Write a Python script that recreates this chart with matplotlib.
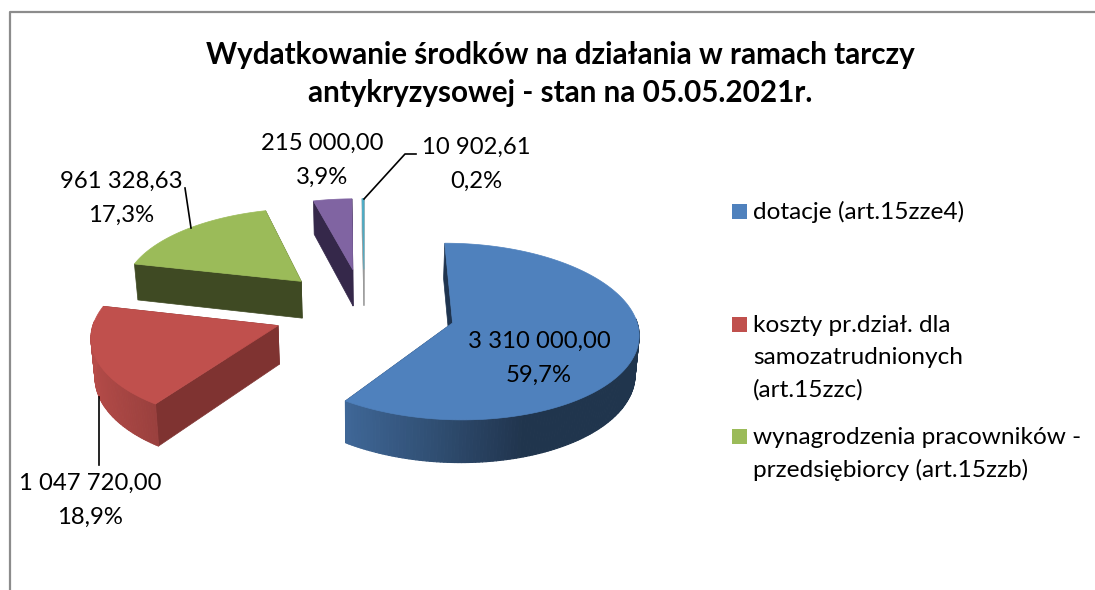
import matplotlib.pyplot as plt
import numpy as np
from matplotlib.collections import PolyCollection
from matplotlib.colors import to_rgb
from matplotlib.patches import Polygon, Rectangle


plt.rcParams["font.family"] = ["Lato", "DejaVu Sans"]

TITLE = ["Wydatkowanie środków na działania w ramach tarczy",
         "antykryzysowej - stan na 05.05.2021r."]

VALUES = [3310000.00, 1047720.00, 961328.63, 215000.00, 10902.61]
PERCENT = ["59,7%", "18,9%", "17,3%", "3,9%", "0,2%"]
AMOUNTS = ["3 310 000,00", "1 047 720,00", "961 328,63", "215 000,00", "10 902,61"]
LEGEND = ["dotacje (art.15zze4)",
          "koszty pr.dział. dla\nsamozatrudnionych\n(art.15zzc)",
          "wynagrodzenia pracowników -\nprzedsiębiorcy (art.15zzb)"]

TOP_COLORS = ["#4f81bd", "#c0504d", "#9bbb59", "#8064a2", "#4bacc6"]
WALL_COLORS = ["#1f344f", "#7f3331", "#3f4a23", "#35284a", "#9a9a9a"]

# fake 3d view: image position of the pie centre and the perspective
CX, CY = 364.5, 310
FX, FY = 182, 85
PERSP = 0.096
EXPLODE = 0.5
DEPTH = 38
SHRINK = 0.985


def project(x, y, down=False):
    w = 1 + PERSP * y
    sx = FX * x / w
    sy = CY - FY * y / w
    if down:
        return CX + sx * SHRINK, sy + DEPTH / w
    return CX + sx, sy


def shade(color, u):
    f = np.interp(u, [-1, -0.57, 0.3, 1], [0.95, 0.8, 0.41, 0.41])
    return tuple(c * f for c in to_rgb(color))


def draw_slice(ax, start, end, top, wall):
    mid = np.radians((start + end) / 2)
    ox, oy = EXPLODE * np.sin(mid), EXPLODE * np.cos(mid)
    th = np.radians(np.linspace(start, end, max(int(end - start), 2) + 1))
    xs, ys = ox + np.sin(th), oy + np.cos(th)

    # radial walls first, the top face hides whichever faces away
    for i in [0, -1]:
        quad = [project(ox, oy), project(xs[i], ys[i]),
                project(xs[i], ys[i], down=True), project(ox, oy, down=True)]
        ax.add_patch(Polygon(quad, fc=wall, ec=wall, lw=0.5))

    # outer wall, only the part turned towards the viewer
    quads, cols = [], []
    for i in range(len(th) - 1):
        if np.cos((th[i] + th[i + 1]) / 2) > 0.05:
            continue
        quads.append([project(xs[i], ys[i]), project(xs[i + 1], ys[i + 1]),
                      project(xs[i + 1], ys[i + 1], down=True),
                      project(xs[i], ys[i], down=True)])
        cols.append(shade(top, np.sin((th[i] + th[i + 1]) / 2)))
    ax.add_collection(PolyCollection(quads, facecolors=cols, edgecolors=cols,
                                     linewidths=0.8))

    face = [project(ox, oy)] + [project(a, b) for a, b in zip(xs, ys)]
    ax.add_patch(Polygon(face, fc=top, ec=top, lw=0.5))


fig = plt.figure(figsize=(10.95, 5.9), dpi=100)
ax = fig.add_axes([0, 0, 1, 1])
ax.set_xlim(0, 1095)
ax.set_ylim(590, 0)
ax.axis("off")

ax.plot([9.5, 9.5, 1095], [590, 12, 12], color="#8c8c8c", lw=1.6)

for line, y in zip(TITLE, [55, 93]):
    ax.text(560, y, line, ha="center", va="center", fontsize=21.3,
            fontweight="bold", color="black")

edges = np.concatenate([[0], np.cumsum(VALUES)]) / sum(VALUES) * 360
# back slices first so the front ones sit on top
for i in [4, 3, 2, 1, 0]:
    draw_slice(ax, edges[i], edges[i + 1], TOP_COLORS[i], WALL_COLORS[i])

label_pos = [(539, 341), (90, 483), (121, 181), (322, 143), (476, 147)]
for amount, pct, (x, y) in zip(AMOUNTS, PERCENT, label_pos):
    ax.text(x, y, amount, ha="center", va="center", fontsize=17.2, color="black")
    ax.text(x, y + 34, pct, ha="center", va="center", fontsize=17.2, color="black")

leaders = [([99, 99], [397, 465]),
           ([185, 191], [188, 228]),
           ([364, 405, 416], [199, 154, 154])]
for lx, ly in leaders:
    ax.plot(lx, ly, color="black", lw=1.2)

legend_y = [212, 325, 437]
for name, color, y in zip(LEGEND, TOP_COLORS, legend_y):
    ax.add_patch(Rectangle((732, y - 8), 15, 15, fc=color, ec="none"))
    for j, part in enumerate(name.split("\n")):
        ax.text(753, y + j * 32.5, part, ha="left", va="center", fontsize=17.6,
                color="black")

fig.savefig("out.png", dpi=100)
